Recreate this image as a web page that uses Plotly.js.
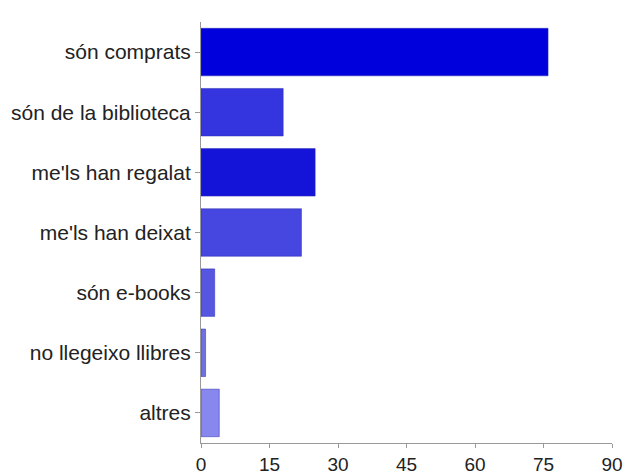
<!DOCTYPE html>
<html>
<head>
<meta charset="utf-8">
<script src="https://cdn.plot.ly/plotly-3.0.1.min.js"></script>
<style>html,body{margin:0;padding:0;background:#fff;}#chart{width:629px;height:475px;}</style>
</head>
<body>
<div id="chart"></div>
<script>
var categories = ["són comprats", "són de la biblioteca", "me'ls han regalat", "me'ls han deixat", "són e-books", "no llegeixo llibres", "altres"];
var values = [76, 18, 25, 22, 3, 1, 4];
var barColors = ["#0000dd", "#3535e0", "#1414d8", "#4646e0", "#5656e0", "#7070e2", "#8787ee"];
var xTicks = [0, 15, 30, 45, 60, 75, 90];

var trace = {
  type: "bar",
  orientation: "h",
  y: categories,
  x: values,
  marker: {color: barColors, line: {color: "#2a2ab0", width: 0.5}},
  hoverinfo: "x+y"
};

var layout = {
  width: 629,
  height: 475,
  margin: {l: 201, r: 17, t: 22, b: 32},
  paper_bgcolor: "#ffffff",
  plot_bgcolor: "#ffffff",
  showlegend: false,
  bargap: 0.21,
  font: {family: "Liberation Sans, Arial, sans-serif", color: "#222222"},
  xaxis: {
    range: [0, 90],
    tickvals: xTicks,
    ticktext: xTicks.map(String),
    showgrid: false,
    zeroline: false,
    showline: true,
    linecolor: "#999999",
    linewidth: 1,
    ticks: "outside",
    ticklen: 4,
    tickcolor: "#999999",
    tickfont: {size: 19, color: "#222222"}
  },
  yaxis: {
    autorange: "reversed",
    showgrid: false,
    zeroline: false,
    showline: true,
    linecolor: "#999999",
    linewidth: 1,
    ticks: "outside",
    ticklen: 5,
    tickcolor: "#999999",
    tickfont: {size: 21, color: "#222222"}
  }
};

Plotly.newPlot("chart", [trace], layout, {displayModeBar: false, staticPlot: true});
</script>
</body>
</html>
